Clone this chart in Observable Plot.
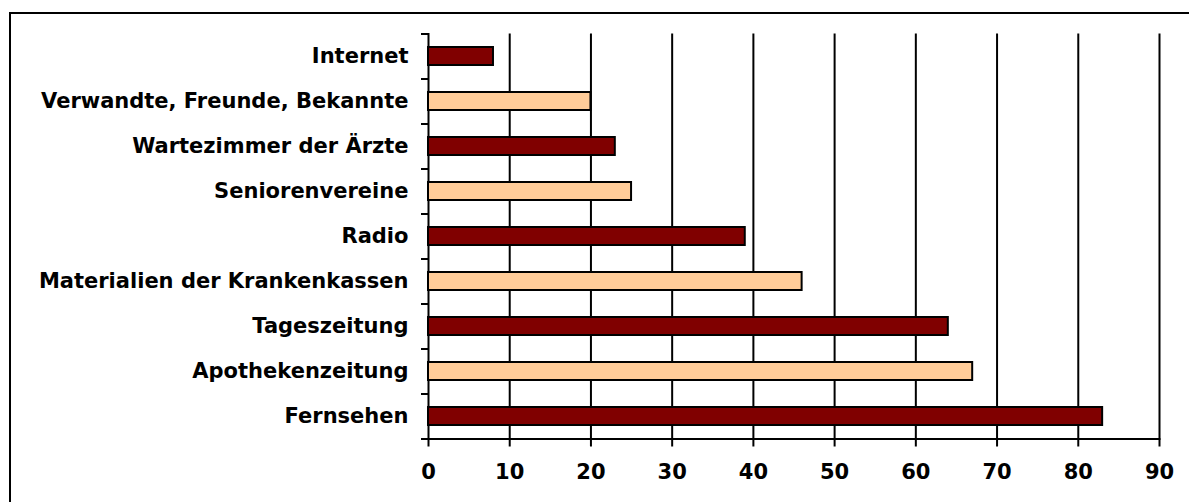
<!DOCTYPE html>
<html>
<head>
<meta charset="utf-8">
<script src="https://cdn.jsdelivr.net/npm/d3@7"></script>
<script src="https://cdn.jsdelivr.net/npm/@observablehq/plot@0.6"></script>
<style>
  html, body { margin: 0; padding: 0; background: #fff; overflow: hidden; }
  #wrap { position: relative; width: 1189px; height: 502px; }
  #border {
    position: absolute; left: 9px; top: 12px; width: 1400px; height: 700px;
    border-top: 2px solid #000; border-left: 2px solid #000;
  }
  #chart { position: absolute; left: 0; top: 0; }
</style>
</head>
<body>
<div id="wrap">
  <div id="border"></div>
  <div id="chart"></div>
</div>
<script>
// Sources of health information (percent), top to bottom
const categories = [
  "Internet",
  "Verwandte, Freunde, Bekannte",
  "Wartezimmer der Ärzte",
  "Seniorenvereine",
  "Radio",
  "Materialien der Krankenkassen",
  "Tageszeitung",
  "Apothekenzeitung",
  "Fernsehen"
];
const values = [8, 20, 23, 25, 39, 46, 64, 67, 83];
const barColors = ["#800000", "#FFCC99", "#800000", "#FFCC99", "#800000", "#FFCC99", "#800000", "#FFCC99", "#800000"];
const xTicks = [0, 10, 20, 30, 40, 50, 60, 70, 80, 90];

const rows = categories.map((c, i) => ({category: c, value: values[i], color: barColors[i]}));

const font = "'DejaVu Sans', Verdana, sans-serif";
const marginTop = 33.5, marginBottom = 63.5;
const step = (502 - marginTop - marginBottom) / categories.length;

const chart = Plot.plot({
  width: 1189,
  height: 502,
  marginLeft: 428,
  marginRight: 30,
  marginTop,
  marginBottom,
  style: {fontFamily: font, fontSize: "21px", fontWeight: "bold", color: "#000", background: "transparent", overflow: "visible"},
  x: {domain: [0, 90], label: null},
  y: {domain: categories, paddingInner: 0.6, paddingOuter: 0.3, label: null},
  marks: [
    Plot.gridX(xTicks.slice(1), {stroke: "#000", strokeOpacity: 1, strokeWidth: 2}),
    Plot.frame({anchor: "bottom", stroke: "#000", strokeWidth: 2}),
    Plot.frame({anchor: "left", stroke: "#000", strokeWidth: 2}),
    Plot.barX(rows, {x: "value", y: "category", fill: "color", stroke: "#000", strokeWidth: 2}),
    // category boundary ticks on the left axis
    Plot.axisY({tickSize: 7, dy: -step / 2, text: null, strokeWidth: 2, stroke: "#000"}),
    Plot.axisY([categories[categories.length - 1]], {tickSize: 7, dy: step / 2, text: null, strokeWidth: 2, stroke: "#000"}),
    Plot.axisY({tickSize: 0, tickPadding: 20, fontSize: 21, fontWeight: "bold", fill: "#000", label: null}),
    Plot.axisX(xTicks, {tickSize: 8, tickPadding: 17, fontSize: 21, fontWeight: "bold", fill: "#000", strokeWidth: 2, stroke: "#000", label: null})
  ]
});

document.getElementById("chart").appendChild(chart);
</script>
</body>
</html>
